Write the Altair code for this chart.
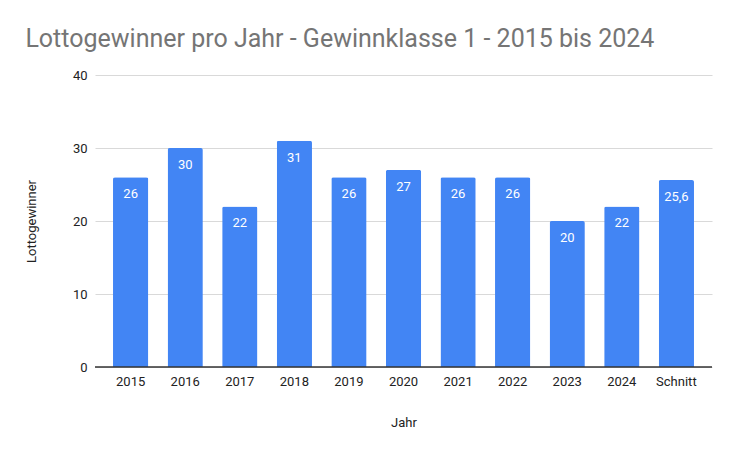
import altair as alt
import pandas as pd

jahre = ["2015", "2016", "2017", "2018", "2019", "2020", "2021", "2022", "2023", "2024", "Schnitt"]
gewinner = [26, 30, 22, 31, 26, 27, 26, 26, 20, 22, 25.6]

df = pd.DataFrame({"Jahr": jahre, "Lottogewinner": gewinner})
df["label"] = [f"{v:g}".replace(".", ",") for v in gewinner]

font = "Roboto"

x = alt.X("Jahr:N", sort=jahre, title="Jahr",
          scale=alt.Scale(paddingInner=0.354, paddingOuter=0.33),
          axis=alt.Axis(labelAngle=0, labelFontSize=13, labelColor="#222222", labelPadding=8,
                        ticks=False, domain=False, titleFontSize=13, titleFontWeight="normal",
                        titleColor="#222222", titlePadding=28, labelFont=font, titleFont=font))
y = alt.Y("Lottogewinner:Q", title="Lottogewinner",
          scale=alt.Scale(domain=[0, 40], nice=False),
          axis=alt.Axis(values=[0, 10, 20, 30, 40], labelFontSize=13, labelColor="#222222",
                        labelPadding=8, ticks=False, domain=False, gridColor="#d9d9d9",
                        titleFontSize=13, titleFontWeight="normal", titleColor="#222222",
                        titlePadding=34, labelFont=font, titleFont=font))

bars = alt.Chart(df).mark_bar(color="#4285f4", cornerRadiusTopLeft=2, cornerRadiusTopRight=2).encode(
    x=x, y=y
)

labels = alt.Chart(df).mark_text(baseline="top", dy=11, color="white", fontSize=13, font=font).encode(
    x=alt.X("Jahr:N", sort=jahre),
    y="Lottogewinner:Q",
    text="label:N",
)

zero = alt.Chart(pd.DataFrame({"v": [0]})).mark_rule(color="#333333", strokeWidth=1.5).encode(
    y="v:Q"
)

chart = alt.layer(bars, labels, zero).properties(
    width=617,
    height=292,
    padding={"left": 17, "top": 19, "right": 5, "bottom": 5},
    title=alt.TitleParams("Lottogewinner pro Jahr - Gewinnklasse 1 - 2015 bis 2024",
                          anchor="start", frame="bounds", fontSize=25, font=font,
                          fontWeight="normal", color="#757575", offset=17, dx=0),
).configure_view(stroke=None)

chart.save("out.html", embed_options={"renderer": "svg", "actions": False})
